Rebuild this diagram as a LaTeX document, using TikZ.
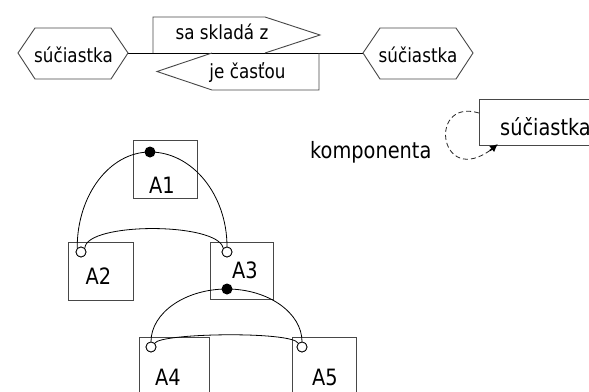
\documentclass[tikz,border=0pt]{standalone}
\usepackage{fontspec}
\setmainfont{DejaVu Sans}[FakeStretch=0.86]
\usetikzlibrary{arrows.meta}
\begin{document}
\begin{tikzpicture}[x=1pt,y=-1pt,
  outl/.style={draw=black!72, line width=0.9pt},
  conn/.style={draw=black, line width=0.9pt},
  arcline/.style={draw=black, line width=0.8pt},
  smalltxt/.style={font=\fontsize{19.5}{22}\selectfont, inner sep=0pt},
  bigtxt/.style={font=\fontsize{22.5}{26}\selectfont, inner sep=0pt},
  abox/.style={outl, rectangle, inner sep=0pt, anchor=north west},
  opendot/.style={circle, draw=black, fill=white, line width=0.8pt, minimum size=10pt, inner sep=0pt},
  fulldot/.style={circle, fill=black, minimum size=11pt, inner sep=0pt},
  loopline/.style={draw=black!85, line width=0.8pt, dash pattern=on 5pt off 3pt}
]
\path[use as bounding box] (0,0) rectangle (589,391);
\clip (0,0) rectangle (589,391);
\fill[white] (0,0) rectangle (589,391);

% ---- top row ----
\coordinate (h1e) at (128,53);
\coordinate (h2w) at (363,53);
\draw[conn] (h1e) -- (h2w);
\draw[outl] (18,53) -- (35,28) -- (111,28) -- (128,53) -- (111,79) -- (35,79) -- cycle;
\node[smalltxt, anchor=base] (h1) at (73.5,62) {súčiastka};
\draw[outl] (363,53) -- (380,28) -- (456,28) -- (473,53) -- (456,79) -- (380,79) -- cycle;
\node[smalltxt, anchor=base] (h2) at (418,62) {súčiastka};

\draw[outl] (153,53) -- (153,17) -- (265,17) -- (320,35) -- (265,53);
\node[smalltxt, anchor=base] (r1) at (222,39.5) {sa skladá z};
\draw[outl] (212,53) -- (157,71.5) -- (212,90) -- (319,90) -- (319,53);
\node[smalltxt, anchor=base] (r2) at (247.5,78.5) {je časťou};

% ---- self loop ----
\node[abox, minimum width=150pt, minimum height=46pt] (sb) at (479,99) {};
\node[bigtxt, anchor=base west] (sbt) at (500,135) {súčiastka};
\node[bigtxt, anchor=base west] (komp) at (310,158) {komponenta};
\coordinate (ls) at (479,113);
\coordinate (le) at (498,144);
\draw[loopline] (ls) .. controls (425,97) and (440,196) .. (le);
\draw[black, line width=1.6pt, -{Latex[length=8pt,width=8pt]}] (490,150.5) -- (le);

% ---- boxes ----
\node[abox, minimum width=64pt, minimum height=58pt] (a1) at (133,140) {};
\node[abox, minimum width=65pt, minimum height=58pt] (a2) at (68,242) {};
\node[abox, minimum width=63pt, minimum height=57pt] (a3) at (210,242) {};
\node[abox, minimum width=70pt, minimum height=60pt] (a4) at (139,337) {};
\node[abox, minimum width=64pt, minimum height=60pt] (a5) at (292,337) {};
\node[bigtxt, anchor=base] (t1) at (162,193) {A1};
\node[bigtxt, anchor=base] (t2) at (98.5,284) {A2};
\node[bigtxt, anchor=base] (t3) at (245,278) {A3};
\node[bigtxt, anchor=base] (t4) at (168,385) {A4};
\node[bigtxt, anchor=base] (t5) at (325,385) {A5};

% ---- dots ----
\node[opendot] (c2) at (81,252) {};
\node[opendot] (c3) at (227,252) {};
\node[opendot] (c4) at (151,347) {};
\node[opendot] (c5) at (302,347) {};

% ---- arcs ----
\draw[arcline] (c2.135) .. controls (77,195) and (109.7,152) .. (150,152)
  .. controls (192.5,152) and (227,195) .. (c3.north);
\draw[arcline] (c2.45) .. controls (86,222) and (218,222) .. (c3.135);
\draw[arcline] (c4.north) .. controls (151,313) and (185,289) .. (227,289)
  .. controls (268.4,289) and (302,313) .. (c5.north);
\draw[arcline] (c4.45) .. controls (160,333) and (292,331) .. (c5.135);

\node[fulldot] (d1) at (150,152) {};
\node[fulldot] (d2) at (227,289) {};
\node[opendot] at (c2) {};
\node[opendot] at (c3) {};
\node[opendot] at (c4) {};
\node[opendot] at (c5) {};
\end{tikzpicture}
\end{document}
